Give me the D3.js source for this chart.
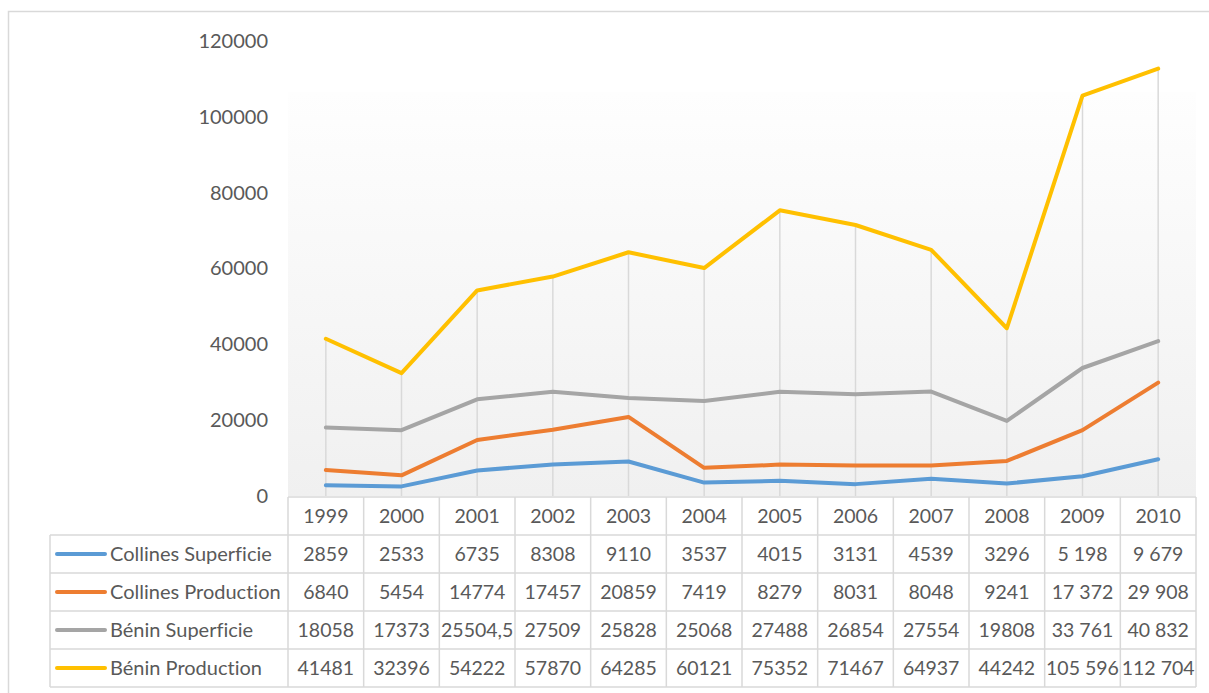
<!DOCTYPE html>
<html>
<head>
<meta charset="utf-8">
<script src="https://cdn.jsdelivr.net/npm/d3@7"></script>
<style>
  body { margin: 0; background: #fff; }
  text { font-family: Lato, "Open Sans", sans-serif; fill: #595959; font-variant-ligatures: none; }
</style>
</head>
<body>
<script>
const years = [1999, 2000, 2001, 2002, 2003, 2004, 2005, 2006, 2007, 2008, 2009, 2010];
const seriesNames = ["Collines Superficie", "Collines Production", "Bénin Superficie", "Bénin Production"];
const collinesSuperficie = [2859, 2533, 6735, 8308, 9110, 3537, 4015, 3131, 4539, 3296, 5198, 9679];
const collinesProduction = [6840, 5454, 14774, 17457, 20859, 7419, 8279, 8031, 8048, 9241, 17372, 29908];
const beninSuperficie = [18058, 17373, 25504.5, 27509, 25828, 25068, 27488, 26854, 27554, 19808, 33761, 40832];
const beninProduction = [41481, 32396, 54222, 57870, 64285, 60121, 75352, 71467, 64937, 44242, 105596, 112704];
const yTicks = [0, 20000, 40000, 60000, 80000, 100000, 120000];
const colors = ["#5B9BD5", "#ED7D31", "#A5A5A5", "#FFC000"];

const seriesValues = [collinesSuperficie, collinesProduction, beninSuperficie, beninProduction];

const width = 1209, height = 693;
const plotLeft = 288, plotRight = 1196, plotTop = 41, plotBottom = 496;
const tableLeft = 50, rowH = 38;

const spaced = d3.formatLocale({decimal: ",", thousands: " ", grouping: [3]}).format(",");
// the last two years are written with a space separator in the source table
const fmt = (v, i) => i >= 10 ? spaced(v) : String(v).replace(".", ",");

const svg = d3.select("body").append("svg")
    .attr("width", width)
    .attr("height", height);

// chart frame
svg.append("rect")
    .attr("x", 8.5).attr("y", 11.5)
    .attr("width", 1220).attr("height", 700)
    .attr("fill", "none")
    .attr("stroke", "#d9d9d9")
    .attr("stroke-width", 1.5);

const defs = svg.append("defs");
const grad = defs.append("linearGradient")
    .attr("id", "plotBg")
    .attr("x1", 0).attr("y1", 0).attr("x2", 0).attr("y2", 1);
grad.append("stop").attr("offset", "0%").attr("stop-color", "#fefefe");
grad.append("stop").attr("offset", "100%").attr("stop-color", "#f0f0f0");

const x = d3.scaleBand()
    .domain(years)
    .range([plotLeft, plotRight]);

const y = d3.scaleLinear()
    .domain([0, 120000])
    .range([plotBottom, plotTop]);

svg.append("rect")
    .attr("x", plotLeft)
    .attr("y", 92)
    .attr("width", plotRight - plotLeft)
    .attr("height", plotBottom - 92)
    .attr("fill", "url(#plotBg)");

// y axis labels only, no line
const yAxis = svg.append("g")
    .attr("transform", `translate(${plotLeft - 20},0)`)
    .call(d3.axisLeft(y).tickValues(yTicks).tickSize(0).tickPadding(0).tickFormat(d3.format("d")));
yAxis.select(".domain").remove();
yAxis.selectAll("text")
    .attr("font-size", 20)
    .attr("fill", "#595959")
    .style("font-family", "Lato, sans-serif");

// drop lines from the highest point to the axis
const cx = d => x(d) + x.bandwidth() / 2;
svg.append("g")
    .selectAll("line")
    .data(years)
    .enter()
    .append("line")
    .attr("x1", cx).attr("x2", cx)
    .attr("y1", (d, i) => y(d3.max(seriesValues, s => s[i])))
    .attr("y2", plotBottom)
    .attr("stroke", "#d9d9d9")
    .attr("stroke-width", 1.5);

const line = d3.line()
    .x((d, i) => cx(years[i]))
    .y(d => y(d));

svg.append("g")
    .selectAll("path")
    .data(seriesValues)
    .enter()
    .append("path")
    .attr("d", d => line(d))
    .attr("fill", "none")
    .attr("stroke", (d, i) => colors[i])
    .attr("stroke-width", 4)
    .attr("stroke-linejoin", "round")
    .attr("stroke-linecap", "round");

// data table
const table = svg.append("g");
const gridColor = "#d9d9d9";
const headerTop = plotBottom + 1;
const bodyTop = headerTop + rowH;
const tableBottom = bodyTop + rowH * seriesNames.length;

// horizontal rules
table.append("line")
    .attr("x1", plotLeft).attr("x2", plotRight)
    .attr("y1", headerTop).attr("y2", headerTop)
    .attr("stroke", gridColor).attr("stroke-width", 1.5);
d3.range(seriesNames.length + 1).forEach(r => {
    table.append("line")
        .attr("x1", tableLeft).attr("x2", plotRight)
        .attr("y1", bodyTop + r * rowH).attr("y2", bodyTop + r * rowH)
        .attr("stroke", gridColor).attr("stroke-width", 1.5);
});
// vertical rules
table.append("line")
    .attr("x1", tableLeft).attr("x2", tableLeft)
    .attr("y1", bodyTop).attr("y2", tableBottom)
    .attr("stroke", gridColor).attr("stroke-width", 1.5);
years.forEach(yr => {
    table.append("line")
        .attr("x1", x(yr)).attr("x2", x(yr))
        .attr("y1", headerTop).attr("y2", tableBottom)
        .attr("stroke", gridColor).attr("stroke-width", 1.5);
});
table.append("line")
    .attr("x1", plotRight).attr("x2", plotRight)
    .attr("y1", headerTop).attr("y2", tableBottom)
    .attr("stroke", gridColor).attr("stroke-width", 1.5);

// header years
table.selectAll(".year")
    .data(years)
    .enter()
    .append("text")
    .attr("class", "year")
    .attr("x", cx)
    .attr("y", headerTop + rowH / 2)
    .attr("dy", "0.35em")
    .attr("text-anchor", "middle")
    .attr("font-size", 19.5)
    .text(d => d);

// body rows
const rows = table.selectAll(".row")
    .data(seriesValues)
    .enter()
    .append("g")
    .attr("class", "row")
    .attr("transform", (d, i) => `translate(0,${bodyTop + i * rowH + rowH / 2})`);

rows.append("line")
    .attr("x1", tableLeft + 7).attr("x2", tableLeft + 55)
    .attr("y1", 0).attr("y2", 0)
    .attr("stroke", (d, i) => colors[i])
    .attr("stroke-width", 4)
    .attr("stroke-linecap", "round");

rows.append("text")
    .attr("x", tableLeft + 60)
    .attr("dy", "0.35em")
    .attr("font-size", 20)
    .text((d, i) => seriesNames[i]);

rows.selectAll(".val")
    .data(d => d)
    .enter()
    .append("text")
    .attr("class", "val")
    .attr("x", (d, i) => cx(years[i]))
    .attr("dy", "0.35em")
    .attr("text-anchor", "middle")
    .attr("font-size", 19.5)
    .text((d, i) => fmt(d, i));
</script>
</body>
</html>
